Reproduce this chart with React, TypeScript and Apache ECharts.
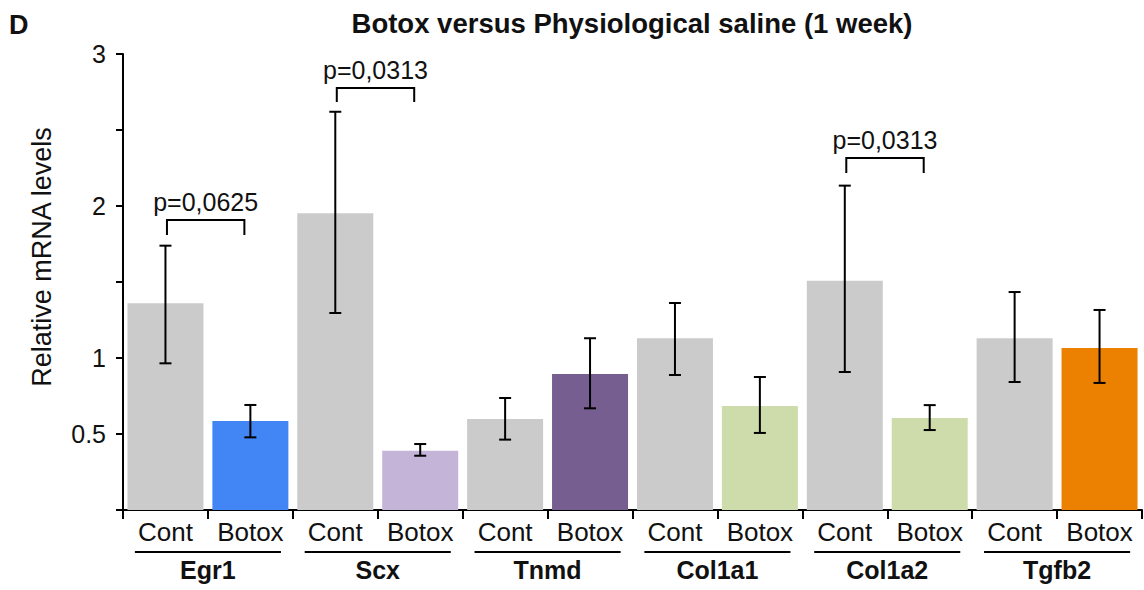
import React, { useEffect, useRef } from "react";
import * as echarts from "echarts";

const genes = ["Egr1", "Scx", "Tnmd", "Col1a1", "Col1a2", "Tgfb2"];
const conditions = ["Cont", "Botox"];
const meanValues = [1.36, 0.586, 1.952, 0.39, 0.599, 0.895, 1.13, 0.684, 1.509, 0.605, 1.13, 1.066];
const errLow = [0.965, 0.478, 1.296, 0.357, 0.463, 0.669, 0.888, 0.507, 0.908, 0.526, 0.842, 0.836];
const errHigh = [1.739, 0.691, 2.62, 0.434, 0.737, 1.13, 1.362, 0.875, 2.134, 0.69, 1.434, 1.316];
const barColors = [
  "#cbcbcb", "#4285f4",
  "#cbcbcb", "#c3b4d8",
  "#cbcbcb", "#765e91",
  "#cbcbcb", "#cddcaa",
  "#cbcbcb", "#cddcaa",
  "#cbcbcb", "#ec8000",
];
const pLabels = ["p=0,0625", "p=0,0313", "p=0,0313"];
const bracketStart = [0, 2, 8];
const bracketTop = [1.908, 2.776, 2.316];
const bracketLeg = [1.809, 2.684, 2.217];
const yTickLabels = ["0.5", "1", "2", "3"];

const FONT = "'Liberation Sans', Arial, Helvetica, sans-serif";

export default function App() {
  const ref = useRef<HTMLDivElement>(null);
  useEffect(() => {
    if (!ref.current) return;
    const chart = echarts.init(ref.current, null, { renderer: "svg" });
    const categories: string[] = [];
    genes.forEach((g) => conditions.forEach((c) => categories.push(g + "|" + c)));

    const option: any = {
      animation: false,
      backgroundColor: "#ffffff",
      title: {
        text: "Botox versus Physiological saline (1 week)",
        left: 627,
        top: 4,
        textAlign: "center",
        textStyle: { fontFamily: FONT, fontSize: 27.5, fontWeight: "bold", color: "#111" },
      },
      graphic: [
        {
          type: "text",
          left: 9,
          top: 11,
          style: { text: "D", font: "bold 27px " + FONT, fill: "#111" },
        },
        {
          type: "text",
          x: 42,
          y: 257,
          rotation: Math.PI / 2,
          style: {
            text: "Relative mRNA levels",
            font: "27px " + FONT,
            fill: "#111",
            textAlign: "center",
            textVerticalAlign: "middle",
          },
        },
      ],
      grid: { left: 123, right: 2, top: 54, bottom: 80 },
      xAxis: [
        {
          type: "category",
          data: categories,
          axisLine: { lineStyle: { color: "#000", width: 2 } },
          axisTick: { show: true, interval: 0, length: 9, lineStyle: { color: "#000", width: 2 } },
          axisLabel: {
            interval: 0,
            margin: 9,
            fontFamily: FONT,
            fontSize: 26,
            color: "#111",
            formatter: (v: string) => v.split("|")[1],
          },
          splitLine: { show: false },
        },
        {
          type: "category",
          data: genes,
          position: "bottom",
          axisLine: { show: false },
          axisTick: { show: false },
          axisLabel: {
            interval: 0,
            margin: 47,
            fontFamily: FONT,
            fontSize: 25,
            fontWeight: "bold",
            color: "#111",
          },
          splitLine: { show: false },
        },
      ],
      yAxis: {
        type: "value",
        min: 0,
        max: 3,
        interval: 0.5,
        axisLine: { show: true, lineStyle: { color: "#000", width: 2 } },
        axisTick: { show: true, length: 7, lineStyle: { color: "#000", width: 2 } },
        splitLine: { show: false },
        axisLabel: {
          margin: 17,
          fontFamily: FONT,
          fontSize: 25,
          color: "#111",
          formatter: (v: number) => {
            const s = String(v);
            return yTickLabels.indexOf(s) >= 0 ? s : "";
          },
        },
      },
      series: [
        {
          type: "bar",
          xAxisIndex: 0,
          barCategoryGap: "10.5%",
          data: meanValues.map((v, i) => ({ value: v, itemStyle: { color: barColors[i] } })),
          z: 2,
        },
        {
          type: "custom",
          xAxisIndex: 0,
          z: 5,
          data: meanValues.map((_, i) => [i, errLow[i], errHigh[i]]),
          renderItem: (params: any, api: any) => {
            const idx = api.value(0);
            const lo = api.coord([idx, api.value(1)]);
            const hi = api.coord([idx, api.value(2)]);
            const cap = 6;
            const style = { stroke: "#000", lineWidth: 2 };
            return {
              type: "group",
              children: [
                { type: "line", shape: { x1: lo[0], y1: lo[1], x2: hi[0], y2: hi[1] }, style },
                { type: "line", shape: { x1: hi[0] - cap, y1: hi[1], x2: hi[0] + cap, y2: hi[1] }, style },
                { type: "line", shape: { x1: lo[0] - cap, y1: lo[1], x2: lo[0] + cap, y2: lo[1] }, style },
              ],
            };
          },
        },
        {
          type: "custom",
          xAxisIndex: 0,
          z: 5,
          data: bracketStart.map((s, i) => [s, s + 1, bracketTop[i], bracketLeg[i]]),
          renderItem: (params: any, api: any) => {
            const a = api.coord([api.value(0), api.value(2)]);
            const b = api.coord([api.value(1), api.value(2)]);
            const legY = api.coord([api.value(0), api.value(3)])[1];
            const xl = a[0] + 1.5;
            const xr = b[0] - 6;
            return {
              type: "group",
              children: [
                {
                  type: "polyline",
                  shape: { points: [[xl, legY], [xl, a[1]], [xr, a[1]], [xr, legY]] },
                  style: { stroke: "#000", lineWidth: 2, fill: "none" },
                },
                {
                  type: "text",
                  x: (xl + xr) / 2,
                  y: a[1] - 18,
                  style: {
                    text: pLabels[params.dataIndex],
                    font: "25px " + FONT,
                    fill: "#111",
                    textAlign: "center",
                    textVerticalAlign: "middle",
                  },
                },
              ],
            };
          },
        },
        {
          type: "custom",
          xAxisIndex: 1,
          clip: false,
          z: 5,
          data: genes.map((_, i) => [i, 0]),
          renderItem: (params: any, api: any) => {
            const p = api.coord([api.value(0), 0]);
            const w = api.size([1, 0])[0];
            return {
              type: "line",
              shape: { x1: p[0] - 0.43 * w, y1: p[1] + 42, x2: p[0] + 0.43 * w, y2: p[1] + 42 },
              style: { stroke: "#000", lineWidth: 2 },
            };
          },
        },
      ],
    };
    chart.setOption(option);
    return () => chart.dispose();
  }, []);
  return (
    <div
      ref={ref}
      style={{ position: "absolute", left: 0, top: 0, width: 1144, height: 590 }}
    />
  );
}
